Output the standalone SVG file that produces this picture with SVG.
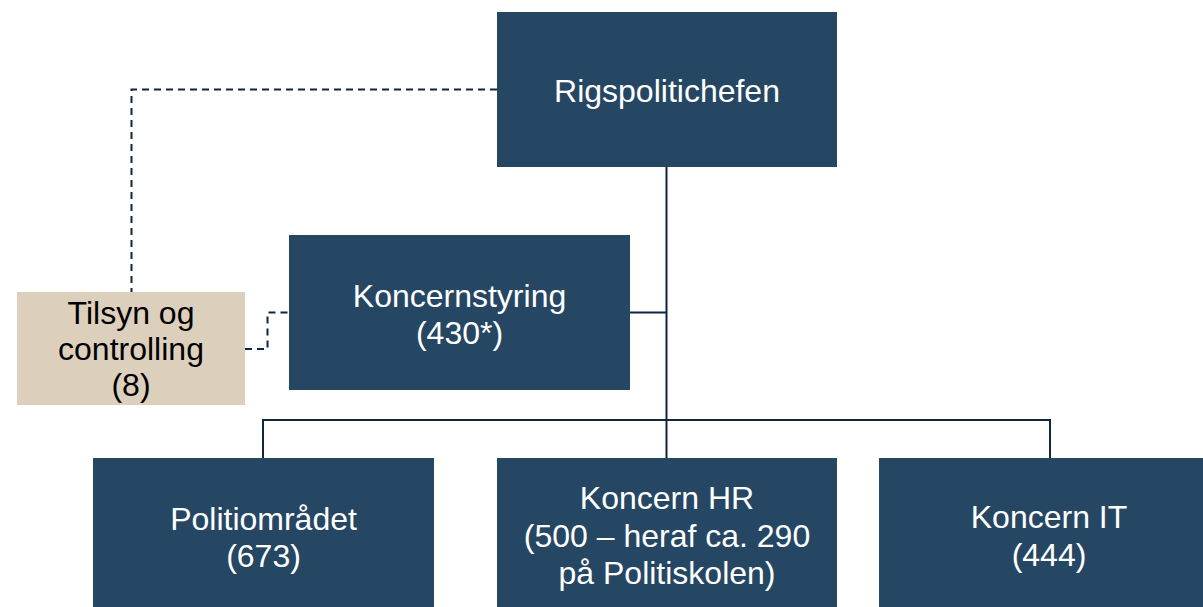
<svg xmlns="http://www.w3.org/2000/svg" width="1203" height="607" viewBox="0 0 1203 607">
<style>
.box{fill:#264763}
.beige{fill:#dccfbb}
.t{font-family:"Liberation Sans",Arial,sans-serif;font-size:32px;text-anchor:middle;fill:#ffffff}
.tk{fill:#000000}
.ln{fill:none;stroke:#0f2540;stroke-width:2}
.dash{fill:none;stroke:#0f2540;stroke-width:2;stroke-dasharray:7,5}
</style>
<rect width="1203" height="607" fill="#ffffff"/>
<g id="connectors">
<path class="dash" d="M497,89.5 H131.5 V292"/>
<path class="dash" d="M245,349 H267.5 V312.5 H289"/>
<path class="ln" d="M666.5,166 V458"/>
<path class="ln" d="M630,312.5 H666.5"/>
<path class="ln" d="M263,458 V420 H1050 V458"/>
</g>
<g id="rigspolitichefen">
<rect class="box" x="497" y="12" width="340" height="155"/>
<text class="t" x="667" y="102">Rigspolitichefen</text>
</g>
<g id="koncernstyring">
<rect class="box" x="289" y="235" width="341" height="155"/>
<text class="t" x="459.5" y="307">Koncernstyring</text>
<text class="t" x="459.5" y="344">(430*)</text>
</g>
<g id="tilsyn">
<rect class="beige" x="17" y="292" width="228" height="113"/>
<text class="t tk" x="131" y="324">Tilsyn og</text>
<text class="t tk" x="131" y="360">controlling</text>
<text class="t tk" x="131" y="396">(8)</text>
</g>
<g id="politiomraadet">
<rect class="box" x="93" y="458" width="341" height="149"/>
<text class="t" x="263.5" y="530">Politiområdet</text>
<text class="t" x="263.5" y="567">(673)</text>
</g>
<g id="koncern-hr">
<rect class="box" x="497" y="458" width="340" height="149"/>
<text class="t" x="667" y="509">Koncern HR</text>
<text class="t" x="667" y="547">(500 – heraf ca. 290</text>
<text class="t" x="667" y="584">på Politiskolen)</text>
</g>
<g id="koncern-it">
<rect class="box" x="879" y="458" width="324" height="149"/>
<text class="t" x="1049" y="528">Koncern IT</text>
<text class="t" x="1049" y="566">(444)</text>
</g>
</svg>
